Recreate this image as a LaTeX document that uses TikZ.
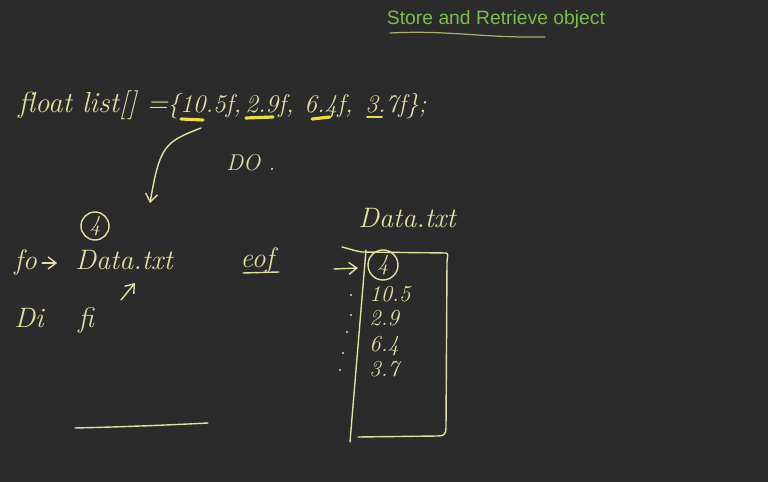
\documentclass[tikz,border=0pt]{standalone}
\usepackage{fontspec}
\newfontfamily\titlefont{Liberation Sans}
\usetikzlibrary{arrows.meta,positioning}
\definecolor{board}{RGB}{43,43,43}
\definecolor{chalk}{RGB}{226,224,160}
\definecolor{marker}{RGB}{232,222,70}
\definecolor{titlegreen}{RGB}{122,190,72}
\definecolor{titleline}{RGB}{172,170,110}

\begin{document}
\begin{tikzpicture}[x=0.02cm,y=-0.02cm,
    hand/.style={text=chalk,inner sep=0pt,anchor=base west,
      font=\fontsize{16}{18}\selectfont\itshape},
    code/.style={hand,font=\fontsize{14.5}{17}\selectfont\itshape},
    small/.style={hand,font=\fontsize{13}{15}\selectfont\itshape},
    ring/.style={draw=chalk,line width=0.8pt,circle,text=chalk,inner sep=0pt,
      font=\fontsize{13}{15}\selectfont\itshape},
    pen/.style={draw=chalk,line width=0.8pt,line cap=round,line join=round},
    penarrow/.style={pen,-{Straight Barb[length=1.6mm,width=2.4mm]}},
    hilite/.style={draw=marker,line width=1.8pt,line cap=round},
    dot/.style={fill=chalk,circle,inner sep=0.5pt}
  ]
  \fill[board] (0,0) rectangle (768,482);
  \useasboundingbox (0,0) rectangle (768,482);

  % heading
  \node[text=titlegreen,font=\titlefont\fontsize{11}{13}\selectfont] (title) at (496,20) {Store and Retrieve object};
  \draw[titleline,line width=0.7pt,line cap=round] (390,33) .. controls (450,30) and (480,38) .. (545,37);

  % the array line
  \node[hand,font=\fontsize{16.5}{18}\selectfont\itshape] (decl) at (18,113) {float list[] =};
  \node[code] (v1) at (167,113) {\{10.5f,};
  \node[code] (v2) at (245,113) {2.9f,};
  \node[code] (v3) at (304,113) {6.4f,};
  \node[code] (v4) at (365,113) {3.7f\};};
  \draw[hilite] ([shift={(14,6)}]v1.base west) -- ([shift={(36,7)}]v1.base west);
  \draw[hilite] ([shift={(1,5)}]v2.base west) -- ([shift={(28,4)}]v2.base west);
  \draw[hilite] ([shift={(8,6)}]v3.base west) -- ([shift={(26,4)}]v3.base west);
  \draw[hilite,line width=1pt] ([shift={(2,4)}]v4.base west) -- ([shift={(17,4)}]v4.base west);

  \coordinate (drop) at (150,203);
  \draw[penarrow] (201,128) .. controls (165,142) and (160,145) .. (drop);
  \node[small] (do) at (226,171) {DO .};

  % left side: writing to the file
  \node[ring,minimum size=0.56cm] (count) at (95,226) {4};
  \node[hand] (fo) at (14,270) {fo};
  \draw[penarrow] ([shift={(5,0)}]fo.east) -- ([shift={(20,0)}]fo.east);
  \node[hand] (fname) at (75,270) {Data.txt};
  \node[hand] (eof) at (240,268) {eof};
  \draw[pen] (243,273) -- (279,272);
  \coordinate (pfrom) at (121,300);
  \coordinate (pto) at (135,283);
  \draw[penarrow] (pfrom) -- (pto);
  \node[hand] (di) at (14,328) {Di};
  \node[hand] (fi) at (78,328) {fi};
  \draw[pen] (75,428) .. controls (120,427) and (170,425) .. (208,423);

  % right side: contents of the file
  \node[hand] (ftitle) at (358,228) {Data.txt};
  \draw[pen] (342,247) .. controls (350,249) and (355,251) .. (362,252) -- (446,253)
    .. controls (449,253) and (447,258) .. (447,262) -- (446,428)
    .. controls (446,434) and (444,436) .. (438,436) -- (358,437);
  \draw[pen] (366,250) -- (350,442);
  \node[ring,minimum width=0.6cm,minimum height=0.56cm] (head) at (383,265) {4};
  \coordinate (hin) at (358,268);
  \draw[penarrow] (334,269) -- (hin);
  \node[small] (r1) at (369,302) {10.5};
  \node[small] (r2) at (369,326) {2.9};
  \node[small] (r3) at (369,352) {6.4};
  \node[small] (r4) at (369,377) {3.7};
  \foreach \px/\py in {351/295,351/315,347/332,343/353,340/370}
    \node[dot] at (\px,\py) {};
\end{tikzpicture}
\end{document}
